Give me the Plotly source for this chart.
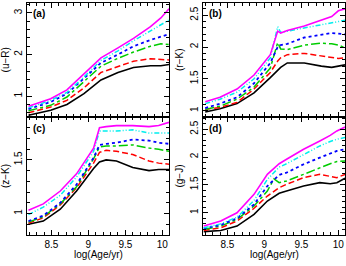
import plotly.graph_objects as go

# ---------------- data ----------------
AGE_A = [8.19, 8.49, 8.71, 8.94, 9.17, 9.40, 9.61, 9.84, 9.98, 10.09]
UR_BLACK = [0.54, 0.66, 0.80, 1.06, 1.39, 1.57, 1.69, 1.73, 1.73, 1.76]
UR_RED = [0.60, 0.74, 0.90, 1.20, 1.57, 1.72, 1.84, 1.90, 1.88, 1.87]
UR_GREEN = [0.65, 0.78, 0.98, 1.34, 1.72, 1.91, 2.06, 2.20, 2.26, 2.24]
UR_BLUE = [0.69, 0.86, 1.06, 1.43, 1.80, 2.00, 2.20, 2.35, 2.43, 2.49]
UR_CYAN = [0.72, 0.90, 1.09, 1.46, 1.86, 2.09, 2.33, 2.57, 2.70, 2.83]
UR_MAGENTA = [0.76, 0.94, 1.15, 1.53, 1.92, 2.16, 2.39, 2.67, 2.88, 3.10]

AGE_B = [8.20, 8.40, 8.63, 8.86, 9.08, 9.18, 9.22, 9.31, 9.54, 9.77, 9.91, 10.00, 10.09]
RK_BLACK = [0.98, 1.03, 1.11, 1.28, 1.52, 1.63, 1.68, 1.75, 1.75, 1.70, 1.68, 1.70, 1.72]
RK_RED = [1.02, 1.05, 1.13, 1.34, 1.60, 1.78, 1.83, 1.88, 1.90, 1.86, 1.83, 1.82, 1.83]
RK_GREEN = [1.02, 1.07, 1.18, 1.37, 1.67, 2.07, 1.97, 1.96, 2.03, 2.06, 2.05, 2.03, 1.99]
RK_BLUE = [1.04, 1.11, 1.21, 1.43, 1.75, 2.00, 2.03, 2.05, 2.15, 2.20, 2.22, 2.21, 2.20]
RK_CYAN = [1.11, 1.18, 1.29, 1.50, 1.83, 2.32, 2.23, 2.25, 2.30, 2.36, 2.39, 2.41, 2.42]
RK_MAGENTA = [1.14, 1.21, 1.34, 1.56, 1.88, 2.25, 2.22, 2.26, 2.33, 2.42, 2.48, 2.57, 2.60]

AGE_C = [8.19, 8.39, 8.62, 8.84, 9.07, 9.15, 9.24, 9.38, 9.60, 9.82, 9.95, 10.09]
ZK_BLACK = [0.90, 0.93, 1.04, 1.21, 1.42, 1.48, 1.50, 1.49, 1.43, 1.40, 1.41, 1.41]
ZK_RED = [0.91, 0.96, 1.08, 1.24, 1.47, 1.57, 1.59, 1.58, 1.55, 1.49, 1.47, 1.46]
ZK_GREEN = [0.92, 0.97, 1.09, 1.25, 1.51, 1.62, 1.63, 1.63, 1.64, 1.61, 1.60, 1.58]
ZK_BLUE = [0.93, 0.98, 1.10, 1.27, 1.52, 1.64, 1.65, 1.66, 1.69, 1.68, 1.66, 1.65]
ZK_CYAN = [0.99, 1.06, 1.17, 1.34, 1.58, 1.77, 1.77, 1.77, 1.78, 1.75, 1.75, 1.75]
ZK_MAGENTA = [1.03, 1.09, 1.21, 1.37, 1.61, 1.80, 1.81, 1.82, 1.82, 1.81, 1.82, 1.85]

AGE_D = [8.18, 8.41, 8.63, 8.86, 9.04, 9.13, 9.20, 9.30, 9.53, 9.75, 9.89, 9.98, 10.09]
GJ_BLACK = [0.66, 0.68, 0.76, 0.97, 1.21, 1.29, 1.35, 1.39, 1.48, 1.54, 1.52, 1.54, 1.62]
GJ_RED = [0.68, 0.73, 0.85, 1.08, 1.30, 1.38, 1.45, 1.51, 1.63, 1.69, 1.66, 1.63, 1.69]
GJ_GREEN = [0.70, 0.76, 0.88, 1.12, 1.39, 1.61, 1.54, 1.57, 1.69, 1.81, 1.88, 1.92, 1.93]
GJ_BLUE = [0.72, 0.78, 0.90, 1.15, 1.48, 1.60, 1.68, 1.72, 1.87, 1.99, 2.07, 2.11, 2.14]
GJ_CYAN = [0.73, 0.80, 0.92, 1.22, 1.60, 1.72, 1.82, 1.88, 2.05, 2.20, 2.28, 2.32, 2.35]
GJ_MAGENTA = [0.76, 0.85, 1.00, 1.33, 1.69, 1.80, 1.88, 1.96, 2.14, 2.29, 2.39, 2.47, 2.54]

PANEL_LABELS = ["(a)", "(b)", "(c)", "(d)"]
Y_TITLES = ["(u\u2212R)", "(r\u2212K)", "(z\u2212K)", "(g\u2212J)"]
X_TITLE = "log(Age/yr)"

# ---------------- styles ----------------
STYLES = [
    dict(color="#000000", dash="solid", width=1.6),
    dict(color="#ff0000", dash="6px,3px", width=1.5),
    dict(color="#00cc00", dash="dashdot", width=1.5),
    dict(color="#0000ff", dash="dot", width=1.8),
    dict(color="#00eeee", dash="5px,2px,1px,2px,1px,2px", width=1.5),
    dict(color="#ff00ff", dash="solid", width=1.6),
]

panels = [
    (AGE_A, [UR_BLACK, UR_RED, UR_GREEN, UR_BLUE, UR_CYAN, UR_MAGENTA]),
    (AGE_B, [RK_BLACK, RK_RED, RK_GREEN, RK_BLUE, RK_CYAN, RK_MAGENTA]),
    (AGE_C, [ZK_BLACK, ZK_RED, ZK_GREEN, ZK_BLUE, ZK_CYAN, ZK_MAGENTA]),
    (AGE_D, [GJ_BLACK, GJ_RED, GJ_GREEN, GJ_BLUE, GJ_CYAN, GJ_MAGENTA]),
]

W, H = 346, 266
xdoms = [[27 / W, 169 / W], [203 / W, 345 / W]]
ydoms = [[(H - 117) / H, (H - 2.5) / H], [(H - 235) / H, (H - 117) / H]]
yranges = [[0.5, 3.25], [0.9, 2.7], [0.8, 1.9], [0.6, 2.72]]
ydticks = [1, 0.5, 0.5, 0.5]
yminor = [0.2, 0.1, 0.1, 0.1]
XR = [8.17, 10.09]

FONT = "Liberation Sans, Arial, sans-serif"
fig = go.Figure()
layout = dict(
    width=W, height=H, margin=dict(l=0, r=0, t=0, b=0),
    paper_bgcolor="white", plot_bgcolor="white", showlegend=False,
    font=dict(family=FONT, size=10, color="black"),
)
annotations = []
for i, (ages, series) in enumerate(panels):
    row, col = divmod(i, 2)
    xa = "x" if i == 0 else f"x{i + 1}"
    ya = "y" if i == 0 else f"y{i + 1}"
    for vals, st in zip(series, STYLES):
        fig.add_trace(go.Scatter(x=ages, y=vals, mode="lines", xaxis=xa, yaxis=ya,
                                 line=dict(color=st["color"], dash=st["dash"], width=st["width"]),
                                 hoverinfo="skip"))
    xkey = "xaxis" if i == 0 else f"xaxis{i + 1}"
    ykey = "yaxis" if i == 0 else f"yaxis{i + 1}"
    layout[xkey] = dict(
        domain=xdoms[col], anchor=ya, range=XR, dtick=0.5, tick0=8.5,
        ticks="inside", ticklen=5, tickwidth=1, tickcolor="black",
        showline=True, linecolor="black", linewidth=1, mirror="ticks",
        showgrid=False, zeroline=False,
        showticklabels=(row == 1), ticklabeloverflow="allow",
        minor=dict(ticks="inside", dtick=0.1, tick0=8.0, ticklen=3, tickcolor="black", showgrid=False),
        tickfont=dict(size=10, family=FONT),
    )
    layout[ykey] = dict(
        domain=ydoms[row], anchor=xa, range=yranges[i], dtick=ydticks[i], tick0=0,
        ticks="inside", ticklen=5, tickwidth=1, tickcolor="black",
        showline=True, linecolor="black", linewidth=1, mirror="ticks",
        showgrid=False, zeroline=False, tickangle=-90, ticklabeloverflow="allow",
        minor=dict(ticks="inside", dtick=yminor[i], tick0=0, ticklen=3, tickcolor="black", showgrid=False),
        tickfont=dict(size=10, family=FONT),
        title=dict(text=Y_TITLES[i], font=dict(size=10, family=FONT), standoff=3),
    )
    annotations.append(dict(
        text="<b>" + PANEL_LABELS[i] + "</b>", xref=f"{xa} domain", yref=f"{ya} domain",
        x=0.03, y=0.97, xanchor="left", yanchor="top", showarrow=False,
        font=dict(size=10, family=FONT, color="black"),
    ))
    if row == 1:
        annotations.append(dict(
            text=X_TITLE, xref=f"{xa} domain", yref="paper",
            x=0.5, y=(H - 254) / H, xanchor="center", yanchor="middle", showarrow=False,
            font=dict(size=10, family=FONT, color="black"),
        ))
layout["annotations"] = annotations
fig.update_layout(**layout)
fig.write_html("out.html", config={"displayModeBar": False, "staticPlot": True},
               post_script="document.body.style.margin='0';document.body.style.overflow='hidden';")
